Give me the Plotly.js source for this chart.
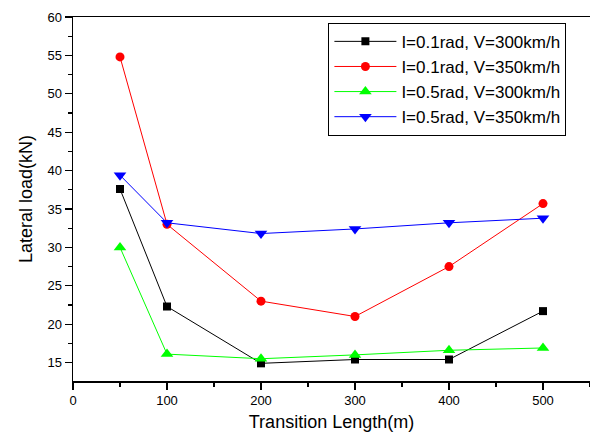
<!DOCTYPE html>
<html>
<head>
<meta charset="utf-8">
<script src="https://cdn.plot.ly/plotly-3.0.1.min.js"></script>
<style>html,body{margin:0;padding:0;background:#fff;}#chart{width:590px;height:437px;}</style>
</head>
<body>
<div id="chart"></div>
<script>
const transitionLength = [50, 100, 200, 300, 400, 500];
const seriesNames = ["I=0.1rad, V=300km/h", "I=0.1rad, V=350km/h", "I=0.5rad, V=300km/h", "I=0.5rad, V=350km/h"];
const load_I01_V300 = [37.6, 22.3, 14.9, 15.4, 15.4, 21.7];
const load_I01_V350 = [54.8, 33.0, 23.0, 21.0, 27.5, 35.7];
const load_I05_V300 = [30.0, 16.1, 15.5, 16.0, 16.6, 16.9];
const load_I05_V350 = [39.4, 33.2, 31.8, 32.4, 33.2, 33.8];
const xTicks = [0, 100, 200, 300, 400, 500];
const yTicks = [15, 20, 25, 30, 35, 40, 45, 50, 55, 60];

const colors = ["#000000", "#ff0000", "#00ff00", "#0000ff"];
const symbols = ["square", "circle", "triangle-up", "triangle-down"];
const sizes = [8, 9, 11, 11];
const values = [load_I01_V300, load_I01_V350, load_I05_V300, load_I05_V350];

const traces = values.map((v, i) => ({
  x: transitionLength,
  y: v,
  name: seriesNames[i],
  type: "scatter",
  mode: "lines+markers",
  line: {color: colors[i], width: 1},
  marker: {color: colors[i], symbol: symbols[i], size: sizes[i]},
  cliponaxis: false
}));

const font = "Liberation Sans, Arial, Helvetica, sans-serif";
const layout = {
  width: 590, height: 437,
  margin: {l: 73, r: 0, t: 17, b: 56},
  paper_bgcolor: "#ffffff",
  plot_bgcolor: "#ffffff",
  font: {family: font, color: "#000", size: 13},
  showlegend: true,
  legend: {
    x: 0.494, y: 0.984, xanchor: "left", yanchor: "top",
    bordercolor: "#000", borderwidth: 1, bgcolor: "#fff",
    font: {family: font, size: 17, color: "#000"},
    itemwidth: 62, tracegroupgap: 0
  },
  xaxis: {
    range: [0, 550],
    tickvals: xTicks, ticktext: xTicks.map(String),
    ticks: "outside", ticklen: 7, tickwidth: 1.2, tickcolor: "#000",
    minor: {dtick: 50, tick0: 0, ticks: "outside", ticklen: 4, tickwidth: 1.2, tickcolor: "#000", showgrid: false},
    showline: true, linecolor: "#000", linewidth: 1.5, mirror: true,
    showgrid: false, zeroline: false,
    tickfont: {size: 13},
    title: {text: "Transition Length(m)", font: {size: 18}, standoff: 8}
  },
  yaxis: {
    range: [12.6, 60],
    tickvals: yTicks, ticktext: yTicks.map(String),
    ticks: "outside", ticklen: 7, tickwidth: 1.2, tickcolor: "#000",
    minor: {dtick: 2.5, tick0: 0, ticks: "outside", ticklen: 4, tickwidth: 1.2, tickcolor: "#000", showgrid: false},
    showline: true, linecolor: "#000", linewidth: 1.5, mirror: true,
    showgrid: false, zeroline: false,
    tickfont: {size: 13},
    title: {text: "Lateral load(kN)", font: {size: 18}, standoff: 10}
  }
};

Plotly.newPlot("chart", traces, layout, {displayModeBar: false, staticPlot: true});
</script>
</body>
</html>
